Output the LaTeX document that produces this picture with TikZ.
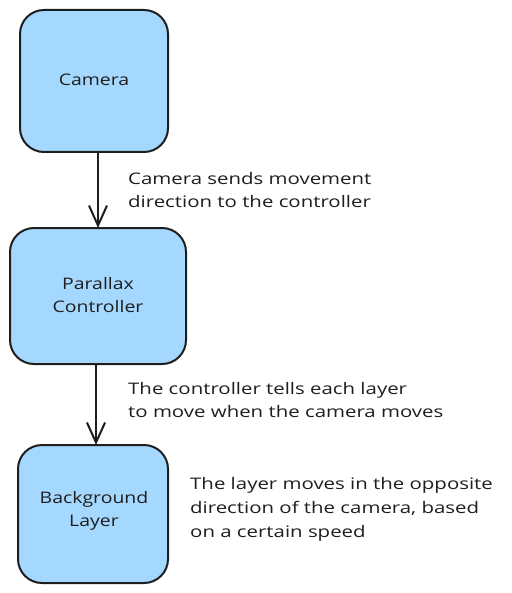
\documentclass[tikz,border=0pt]{standalone}
\usepackage{fontspec}
\setmainfont[FakeStretch=1.22]{Open Sans}
\newfontfamily\widefont[FakeStretch=1.28]{Open Sans}
\usetikzlibrary{arrows.meta}
\definecolor{boxfill}{HTML}{A5D8FF}
\definecolor{ink}{HTML}{1E1E1E}
\tikzset{
  blk/.style={draw=ink, fill=boxfill, line width=2bp, rounded corners=24bp},
  lbl/.style={font=\widefont\fontsize{16}{24}\selectfont, text=ink, align=left, anchor=west, inner sep=0pt},
  ctr/.style={font=\fontsize{16}{23.5}\selectfont, text=ink, align=center, inner sep=0pt},
  conn/.style={draw=ink, line width=2.2bp, -{Straight Barb[length=20bp, width=18bp, line width=2bp]}}
}
\begin{document}
\begin{tikzpicture}[x=1bp, y=-1bp]
\useasboundingbox (0,0) rectangle (512,593);
\path[blk] (20,10) rectangle (168,152);
\path[blk] (10,228) rectangle (186,364);
\path[blk] (18,445) rectangle (168,583);
\coordinate (camT) at (98,152);
\coordinate (parT) at (98,228);
\coordinate (parB) at (96,364);
\coordinate (bgT) at (96,445);
\node[ctr] (cam) at (94,80) {Camera};
\node[ctr] (par) at (98,295) {Parallax\\Controller};
\node[ctr] (bg) at (94,511) {Background\\Layer};
\draw[conn] (camT) -- (parT);
\draw[conn] (parB) -- (bgT);
\node[lbl] (l1) at (128,190) {Camera sends movement\\direction to the controller};
\node[lbl] (l2) at (128,400) {The controller tells each layer\\to move when the camera moves};
\node[lbl] (l3) at (190,509) {The layer moves in the opposite\\direction of the camera, based\\on a certain speed};
\end{tikzpicture}
\end{document}
